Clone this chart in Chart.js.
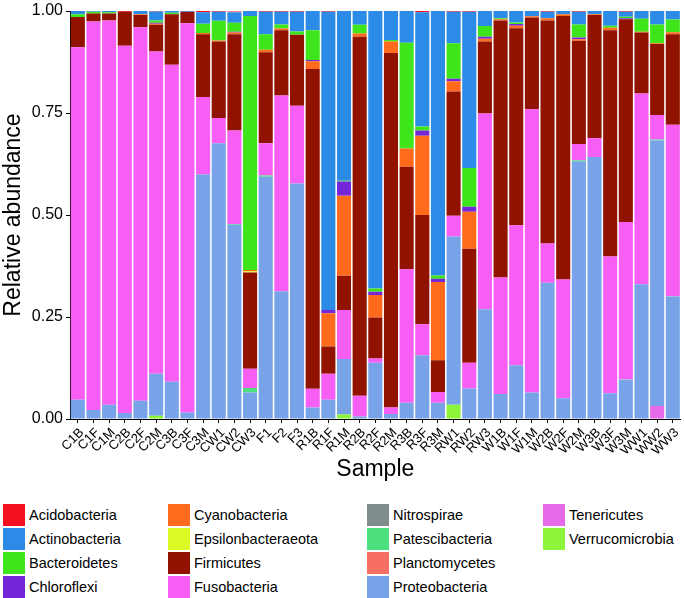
<!DOCTYPE html>
<html>
<head>
<meta charset="utf-8">
<script src="https://cdn.jsdelivr.net/npm/chart.js@4.4.0/dist/chart.umd.min.js"></script>
<style>
    body { margin: 0; background: #fff; font-family: "Liberation Sans", Arial, sans-serif; }
    #wrap { position: relative; width: 685px; height: 598px; overflow: hidden; }
    #chartBox { position: absolute; left: 0; top: 0; width: 685px; height: 483px; }
    .key { position: absolute; height: 22px; line-height: 22px; font-size: 14.5px; color: #000; white-space: nowrap; }
    .key span { position: absolute; left: 0; top: 0; width: 22px; height: 22px; }
    .key em { font-style: normal; position: absolute; left: 26px; top: 0; }
</style>
</head>
<body>
<div id="wrap">
    <div id="chartBox"><canvas id="graph" width="685" height="483"></canvas></div>
    <div id="legend"></div>
</div>
<script>
const samples = ["C1B","C1F","C1M","C2B","C2F","C2M","C3B","C3F","C3M","CW1","CW2","CW3","F1","F2","F3",
    "R1B","R1F","R1M","R2B","R2F","R2M","R3B","R3F","R3M","RW1","RW2","RW3",
    "W1B","W1F","W1M","W2B","W2F","W2M","W3B","W3F","W3M","WW1","WW2","WW3"];

const yTicks = [0, 0.25, 0.5, 0.75, 1];

// relative abundance per phylum, one value per sample (same order as samples)
const acidobacteria = [0,0,0,.002,0,.001,0,0,.003,.002,.002,0,.002,.002,.002,0,.002,0,0,0,0,0,.003,0,.002,.002,0,0,0,0,.002,0,.002,0,0,.002,0,0,0];
const actinobacteria = [.008,.002,.003,0,.008,.022,.004,.002,.028,.022,.026,.012,.055,.031,.048,.047,.731,.416,.034,.680,.071,.078,.280,.648,.077,.383,.037,.018,.028,.013,.016,.008,.031,.008,.036,.012,.019,.033,.021];
const bacteroidetes = [.007,.004,.003,0,0,.006,.004,0,.023,.048,.022,.623,.038,.010,.008,.073,0,.002,.021,.008,.004,.259,.010,.008,.087,.095,.026,.002,.004,0,0,0,.032,0,.005,.004,.032,.046,.031];
const chloroflexi = [0,0,0,0,0,.002,0,0,0,0,.002,0,0,0,0,.003,.008,.035,0,.008,0,0,.013,.008,.006,.012,.005,0,.004,0,0,0,.004,0,0,.002,0,0,0];
const cyanobacteria = [0,0,0,0,.002,.003,0,0,.003,.003,.004,.003,.006,.004,0,.019,.081,.196,.008,.055,.028,.045,.194,.192,.025,.091,.007,.003,.006,.003,.005,.004,.004,.002,.006,0,.002,.002,.005];
const epsilonbacteraeota = [0,0,0,0,0,0,0,0,0,0,0,.003,0,0,0,0,0,0,0,0,0,0,0,0,0,0,0,0,0,0,0,0,0,0,0,0,0,0,0];
const firmicutes = [.074,.020,.017,.083,.030,.065,.124,.028,.154,.187,.236,.236,.223,.160,.174,.784,.067,.084,.880,.101,.869,.251,.268,.078,.305,.279,.176,.630,.483,.225,.547,.646,.253,.302,.555,.497,.149,.174,.222];
const fusobacteria = [.864,.952,.942,.900,.915,.790,.777,.954,.190,.062,.229,.047,.079,.480,.191,.046,.064,.120,.051,.010,.016,.327,.076,.026,.051,.063,.480,.286,.343,.694,.096,.291,.040,.046,.335,.386,.468,.060,.420];
const nitrospirae = [0,0,0,0,0,0,0,0,0,0,0,0,0,0,0,0,0,0,0,0,0,0,0,0,0,0,0,0,0,0,0,0,0,0,0,0,0,0,0];
const patescibacteria = [0,0,0,0,0,0,0,0,0,0,.002,.011,.003,0,0,0,0,0,0,0,0,0,0,0,0,0,0,0,0,0,0,0,.002,0,0,.001,0,.002,.001];
const planctomycetes = [0,0,0,0,0,0,0,0,0,0,0,0,0,0,0,0,0,0,0,0,0,0,0,0,0,0,0,0,0,0,0,0,0,0,0,0,0,0,0];
const proteobacteria = [.047,.022,.035,.015,.045,.103,.091,.016,.599,.676,.476,.065,.594,.313,.577,.028,.047,.136,.006,.138,.012,.040,.156,.040,.412,.075,.269,.061,.132,.065,.334,.051,.632,.642,.063,.096,.330,.651,.300];
const tenericutes = [0,0,0,0,0,0,0,0,0,0,0,0,0,0,0,0,0,0,0,0,0,0,0,0,0,0,0,0,0,0,0,0,0,0,0,0,0,.032,0];
const verrucomicrobia = [0,0,0,0,0,.008,0,0,0,0,0,0,0,0,0,0,0,.011,0,0,0,0,0,0,.035,0,0,0,0,0,0,0,0,0,0,0,0,0,0];

// legend order (top of the stack first)
const phyla = [
    ["Acidobacteria", acidobacteria, "#f5101f"],
    ["Actinobacteria", actinobacteria, "#2c8be6"],
    ["Bacteroidetes", bacteroidetes, "#3de51a"],
    ["Chloroflexi", chloroflexi, "#7327d8"],
    ["Cyanobacteria", cyanobacteria, "#ff6a1c"],
    ["Epsilonbacteraeota", epsilonbacteraeota, "#dcfa26"],
    ["Firmicutes", firmicutes, "#921200"],
    ["Fusobacteria", fusobacteria, "#f65ef4"],
    ["Nitrospirae", nitrospirae, "#7e8c8c"],
    ["Patescibacteria", patescibacteria, "#4ce07e"],
    ["Planctomycetes", planctomycetes, "#f96e62"],
    ["Proteobacteria", proteobacteria, "#79a3e8"],
    ["Tenericutes", tenericutes, "#e76ae9"],
    ["Verrucomicrobia", verrucomicrobia, "#8cf53a"]
];

document.addEventListener("DOMContentLoaded", function () {

    // chart.js stacks the first dataset at the bottom, so go backwards
    const datasets = phyla.slice().reverse().map(function (p) {
        return {
            label: p[0],
            data: p[1],
            backgroundColor: p[2],
            borderWidth: 0,
            barPercentage: 0.9,
            categoryPercentage: 1.0
        };
    });

    const context = document.getElementById("graph").getContext("2d");
    new Chart(context, {
        type: "bar",
        data: { labels: samples, datasets: datasets },
        options: {
            responsive: false,
            animation: false,
            devicePixelRatio: 1,
            layout: { padding: { top: 8, right: 0, bottom: 0, left: 0 } },
            plugins: { legend: { display: false }, tooltip: { enabled: false } },
            scales: {
                x: {
                    stacked: true,
                    grid: { display: true, offset: false, drawOnChartArea: false, drawTicks: true, tickLength: 4, color: "#000" },
                    border: { display: true, color: "#000", width: 1 },
                    ticks: {
                        autoSkip: false, maxRotation: 45, minRotation: 45, padding: 3, labelOffset: 4,
                        color: "#000", font: { family: "Liberation Sans", size: 13, lineHeight: 1 }
                    },
                    title: { display: true, text: "Sample", color: "#000", padding: 0,
                        font: { family: "Liberation Sans", size: 23 } },
                    afterFit: function (scale) { scale.height = 64; }
                },
                y: {
                    stacked: true,
                    min: 0,
                    max: 1,
                    afterBuildTicks: function (scale) {
                        scale.ticks = yTicks.map(function (v) { return { value: v }; });
                    },
                    grid: { display: true, drawOnChartArea: false, drawTicks: true, tickLength: 4, color: "#000" },
                    border: { display: true, color: "#000", width: 1 },
                    ticks: {
                        padding: 3, color: "#000",
                        font: { family: "Liberation Sans", size: 16, lineHeight: 1 },
                        callback: function (v) { return Number(v).toFixed(2); }
                    },
                    title: { display: true, text: "Relative abundance", color: "#000", padding: 0,
                        font: { family: "Liberation Sans", size: 23 } },
                    afterFit: function (scale) { scale.width = 70; }
                }
            }
        }
    });

    // legend: 4 columns, filled top to bottom
    const legend = document.getElementById("legend");
    const colLeft = [3, 168, 367, 543];
    phyla.forEach(function (p, i) {
        const key = document.createElement("div");
        key.className = "key";
        key.style.left = colLeft[Math.floor(i / 4)] + "px";
        key.style.top = (504 + (i % 4) * 24) + "px";
        const box = document.createElement("span");
        box.style.background = p[2];
        const txt = document.createElement("em");
        txt.textContent = p[0];
        key.appendChild(box);
        key.appendChild(txt);
        legend.appendChild(key);
    });
});
</script>
</body>
</html>
